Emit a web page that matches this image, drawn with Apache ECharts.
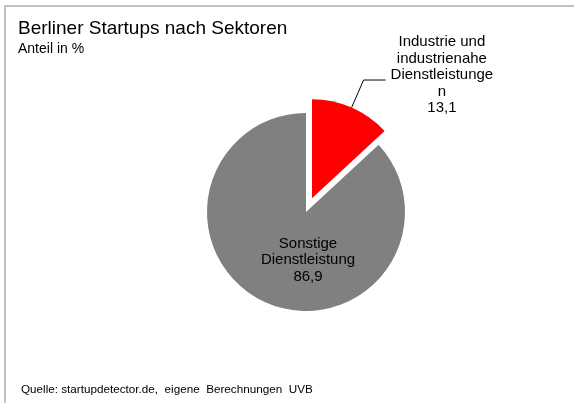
<!DOCTYPE html>
<html>
<head>
<meta charset="utf-8">
<script src="https://cdn.jsdelivr.net/npm/echarts@6/dist/echarts.min.js"></script>
<style>
html, body { margin: 0; padding: 0; background: #fff; }
#chart { width: 574px; height: 403px; }
</style>
</head>
<body>
<div id="chart"></div>
<script>
var sectors = ['Industrie und industrienahe Dienstleistungen', 'Sonstige Dienstleistung']
var shares = [13.1, 86.9]
// label wrapping as in the original picture
var labelLines = [
  ['Industrie und', 'industrienahe', 'Dienstleistunge', 'n'],
  ['Sonstige', 'Dienstleistung']
]
var sliceColors = ['#ff0000', '#808080']
var titleText = 'Berliner Startups nach Sektoren'
var subText = 'Anteil in %'
var sourceText = 'Quelle: startupdetector.de,  eigene  Berechnungen  UVB'

var font = '"Liberation Sans", Arial, sans-serif'

function fmt (v) {
  return String(v).replace('.', ',')
}

function labelText (p) {
  var lines = labelLines[p.dataIndex].concat(fmt(p.value))
  return lines.map(function (l) { return '{c|' + l + '}' }).join('\n')
}

var richStyle = {
  c: { align: 'center', fontSize: 15, lineHeight: 16.5, color: '#000', fontFamily: font }
}

var data = sectors.map(function (name, i) {
  var item = {
    name: name,
    value: shares[i],
    itemStyle: { color: sliceColors[i], borderWidth: 0 },
    select: { itemStyle: { color: sliceColors[i], borderWidth: 0 } }
  }
  if (i === 0) {
    item.selected = true
    item.label = { position: 'outside', padding: [0, 0, 10, 0] }
    item.labelLine = { show: true, length: 30, length2: 22, lineStyle: { color: '#000', width: 1 } }
  } else {
    item.label = { position: 'inside', offset: [23, 0] }
    item.labelLine = { show: false }
  }
  return item
})

var chart = echarts.init(document.getElementById('chart'))
chart.setOption({
  animation: false,
  textStyle: { fontFamily: font },
  title: [
    { text: titleText, left: 18, top: 19, padding: 0, textStyle: { fontSize: 19, fontWeight: 'normal', color: '#000', fontFamily: font } },
    { text: subText, left: 18, top: 42, padding: 0, textStyle: { fontSize: 14, fontWeight: 'normal', color: '#000', fontFamily: font } },
    { text: sourceText, left: 21, top: 384, padding: 0, textStyle: { fontSize: 11.7, fontWeight: 'normal', color: '#000', fontFamily: font } }
  ],
  graphic: [{
    type: 'rect',
    silent: true,
    shape: { x: 5, y: 6, width: 620, height: 440 },
    style: { fill: 'none', stroke: '#c0c0c0', lineWidth: 2 }
  }],
  series: [{
    type: 'pie',
    center: [306, 212],
    radius: 99,
    startAngle: 90,
    clockwise: true,
    selectedMode: 'single',
    selectedOffset: 15,
    emphasis: { disabled: true },
    label: {
      show: true,
      formatter: labelText,
      rich: richStyle
    },
    data: data
  }]
})
</script>
</body>
</html>
